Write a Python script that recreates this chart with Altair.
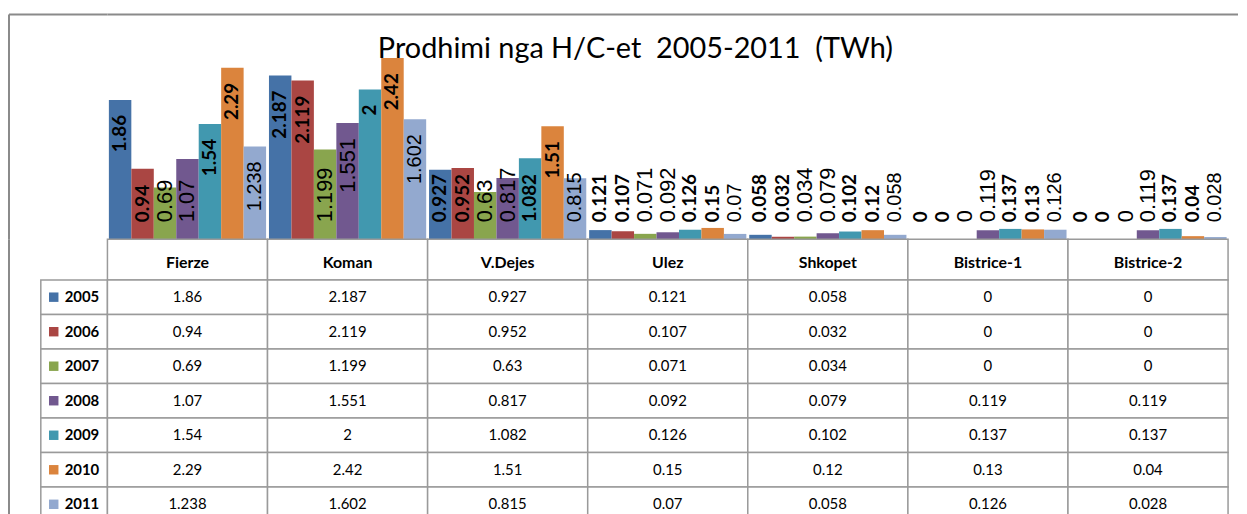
import altair as alt
import pandas as pd

# ---------------- data ----------------
categories = ["Fierze", "Koman", "V.Dejes", "Ulez", "Shkopet", "Bistrice-1", "Bistrice-2"]
years = ["2005", "2006", "2007", "2008", "2009", "2010", "2011"]
v2005 = [1.86, 2.187, 0.927, 0.121, 0.058, 0, 0]
v2006 = [0.94, 2.119, 0.952, 0.107, 0.032, 0, 0]
v2007 = [0.69, 1.199, 0.63, 0.071, 0.034, 0, 0]
v2008 = [1.07, 1.551, 0.817, 0.092, 0.079, 0.119, 0.119]
v2009 = [1.54, 2, 1.082, 0.126, 0.102, 0.137, 0.137]
v2010 = [2.29, 2.42, 1.51, 0.15, 0.12, 0.13, 0.04]
v2011 = [1.238, 1.602, 0.815, 0.07, 0.058, 0.126, 0.028]
series = [v2005, v2006, v2007, v2008, v2009, v2010, v2011]
colors = ["#4572A7", "#AA4643", "#89A54E", "#71588F", "#4198AF", "#DB843D", "#93A9CF"]
label_style = ["bold", "bold", "large", "large", "bold", "bold", "small"]
title_text = "Prodhimi nga H/C-et\u00a0 2005-2011\u00a0 (TWh)"

rows = []
for yr, vals, st in zip(years, series, label_style):
    for c, v in zip(categories, vals):
        rows.append({"cat": c, "year": yr, "value": v, "label": f"{v:g}",
                     "style": st, "inside": bool(v >= 1.2)})
df = pd.DataFrame(rows)

# ---------------- layout constants ----------------
LEFT_W = 100
MAIN_W = 1127
BARS_H = 231
HEAD_H = 41
TABLE_H = 243
GRID = "#9a9a9a"
FRAME = "#8a8a8a"

color_scale = alt.Scale(domain=years, range=colors)

# ---------------- bars panel ----------------
x_bar = alt.X("cat:N", sort=categories, axis=None,
              scale=alt.Scale(paddingInner=0.018, paddingOuter=0.009))
xoff = alt.XOffset("year:N", sort=years, scale=alt.Scale(paddingInner=0, paddingOuter=0))
y_scale = alt.Scale(domain=[0, 3.07], nice=False, zero=True)

base = alt.Chart(df)
bars = base.mark_bar().encode(
    x=x_bar, xOffset=xoff,
    y=alt.Y("value:Q", scale=y_scale, axis=None),
    color=alt.Color("year:N", scale=color_scale, legend=None),
)

styles = {
    "bold": dict(font="Lato", fontWeight="bold", fontSize=19),
    "large": dict(font="Liberation Sans", fontWeight="normal", fontSize=22),
    "small": dict(font="Liberation Sans", fontWeight="normal", fontSize=20),
}
label_layers = []
for st, props in styles.items():
    inside = base.transform_filter(
        f"datum.style == '{st}' && datum.inside"
    ).mark_text(angle=270, align="right", baseline="middle", dx=-15, color="black", **props).encode(
        x=x_bar, xOffset=xoff,
        y=alt.Y("value:Q", scale=y_scale, axis=None),
        text="label:N",
    )
    outside = base.transform_filter(
        f"datum.style == '{st}' && !datum.inside"
    ).transform_calculate(zero="0").mark_text(
        angle=270, align="left", baseline="middle", dx=17, color="black", **props).encode(
        x=x_bar, xOffset=xoff,
        y=alt.Y("zero:Q", scale=y_scale, axis=None),
        text="label:N",
    )
    label_layers += [inside, outside]

title_layer = alt.Chart(pd.DataFrame({"t": [title_text]})).mark_text(
    font="Lato", fontSize=29, align="center", baseline="middle", color="black"
).encode(x=alt.value(531), y=alt.value(40), text="t:N")

frame_top_main = alt.Chart(pd.DataFrame({"a": [0]})).mark_rule(
    color=FRAME, strokeWidth=2
).encode(x=alt.value(0), x2=alt.value(1137), y=alt.value(5))

bars_panel = alt.layer(bars, *label_layers, title_layer, frame_top_main).properties(
    width=MAIN_W, height=BARS_H
)

one = pd.DataFrame({"a": [0]})
spacer_top = alt.layer(
    alt.Chart(one).mark_rule(color=FRAME, strokeWidth=2).encode(
        x=alt.value(1), y=alt.value(5), y2=alt.value(BARS_H)),
    alt.Chart(one).mark_rule(color=FRAME, strokeWidth=2).encode(
        x=alt.value(1), x2=alt.value(LEFT_W), y=alt.value(5)),
).properties(width=LEFT_W, height=BARS_H)

# ---------------- header row ----------------
cat_df = pd.DataFrame({"cat": categories})
x_tab = alt.X("cat:N", sort=categories, axis=None,
              scale=alt.Scale(paddingInner=0, paddingOuter=0))
header = alt.layer(
    alt.Chart(cat_df).mark_rect(fill="white", stroke=GRID, strokeWidth=1.5).encode(
        x=x_tab, y=alt.value(0), y2=alt.value(HEAD_H)),
    alt.Chart(cat_df).mark_text(font="Lato", fontWeight="bold", fontSize=16, color="black").encode(
        x=x_tab, y=alt.value(HEAD_H / 2 + 4), text="cat:N"),
).properties(width=MAIN_W, height=HEAD_H)

spacer_head = alt.Chart(one).mark_rule(color=FRAME, strokeWidth=2).encode(
    x=alt.value(1), y=alt.value(0), y2=alt.value(HEAD_H)
).properties(width=LEFT_W, height=HEAD_H)

# ---------------- data table ----------------
y_tab = alt.Y("year:N", sort=years, axis=None, scale=alt.Scale(paddingInner=0, paddingOuter=0))
table = alt.layer(
    base.mark_rect(fill="white", stroke=GRID, strokeWidth=1.5).encode(x=x_tab, y=y_tab),
    base.mark_text(font="Lato", fontSize=15, color="black").encode(
        x=x_tab, y=y_tab, text="label:N"),
).properties(width=MAIN_W, height=TABLE_H)

year_df = pd.DataFrame({"year": years})
legend_col = alt.layer(
    alt.Chart(one).mark_rule(color=FRAME, strokeWidth=2).encode(
        x=alt.value(1), y=alt.value(0), y2=alt.value(TABLE_H)),
    alt.Chart(year_df).mark_rect(fill="white", stroke=GRID, strokeWidth=1.5).encode(
        x=alt.value(33), x2=alt.value(LEFT_W), y=y_tab),
    alt.Chart(year_df).mark_square(size=90, opacity=1).encode(
        x=alt.value(46), y=y_tab,
        color=alt.Color("year:N", scale=color_scale, legend=None)),
    alt.Chart(year_df).mark_text(font="Lato", fontWeight="bold", fontSize=15,
                                 align="left", color="black").encode(
        x=alt.value(57), y=y_tab, text="year:N"),
).properties(width=LEFT_W, height=TABLE_H)

chart = alt.concat(
    spacer_top, bars_panel,
    spacer_head, header,
    legend_col, table,
    columns=2, spacing=0, bounds="flush",
).properties(
    padding={"left": 0, "top": 0, "right": 0, "bottom": 0}
).configure_view(strokeWidth=0)

chart.save("out.html", embed_options={"renderer": "svg", "actions": False})
